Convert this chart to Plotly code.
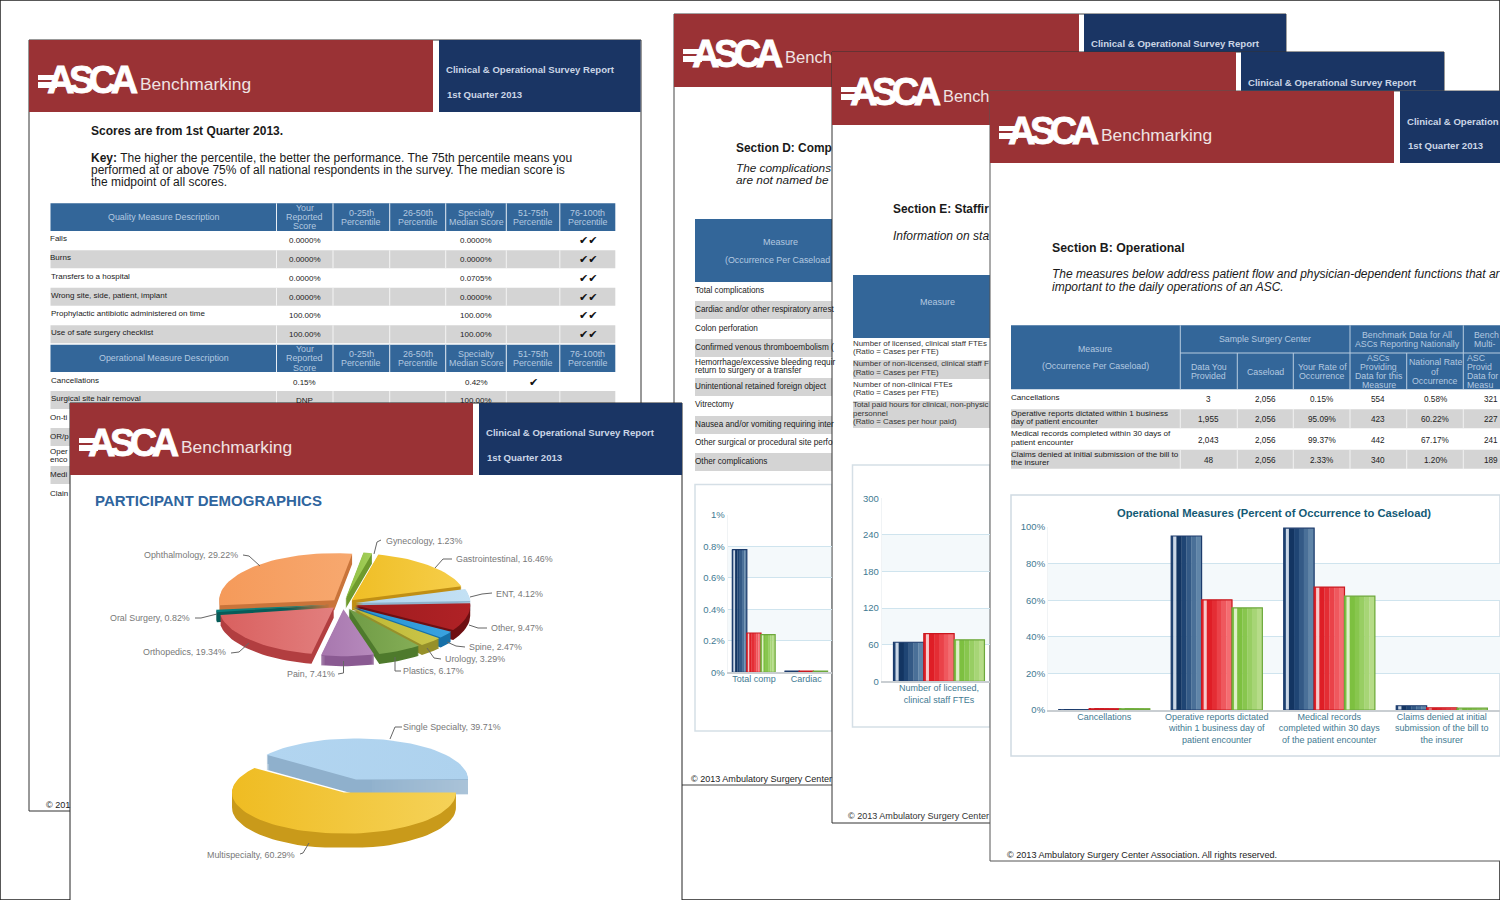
import math
import plotly.graph_objects as go

# ---------- data ----------
SPECIALTIES = ["Gynecology", "Gastrointestinal", "ENT", "Other", "Spine", "Urology", "Plastics",
               "Pain", "Orthopedics", "Oral Surgery", "Ophthalmology"]
SPECIALTY_SHARE = [1.23, 16.46, 4.12, 9.47, 2.47, 3.29, 6.17, 7.41, 19.34, 0.82, 29.22]
ASC_TYPES = ["Single Specialty", "Multispecialty"]
ASC_TYPE_SHARE = [39.71, 60.29]

OP_CATS = ["Cancellations", "Operative reports dictated<br>within 1 business day of<br>patient encounter",
           "Medical records<br>completed within 30 days<br>of the patient encounter",
           "Claims denied at initial<br>submission of the bill to<br>the insurer"]
OP_YOU = [0.15, 95.09, 99.37, 2.33]
OP_NATIONAL = [0.58, 60.22, 67.17, 1.20]
OP_MULTI = [0.6, 55.8, 62.2, 1.0]

COMP_CATS = ["Total comp", "Cardiac"]
COMP_YOU = [0.78, 0.008]
COMP_NATIONAL = [0.25, 0.008]
COMP_MULTI = [0.24, 0.008]

STAFF_CATS = ["Number of licensed,<br>clinical staff FTEs"]
STAFF_YOU = [64]
STAFF_NATIONAL = [78]
STAFF_MULTI = [68]

QUALITY_ROWS = ["Falls", "Burns", "Transfers to a hospital", "Wrong site, side, patient, implant",
                "Prophylactic antibiotic administered on time", "Use of safe surgery checklist"]
QUALITY_SCORE = ["0.0000%", "0.0000%", "0.0000%", "0.0000%", "100.00%", "100.00%"]
QUALITY_MEDIAN = ["0.0000%", "0.0000%", "0.0705%", "0.0000%", "100.00%", "100.00%"]
OPER_ROWS = ["Cancellations", "Surgical site hair removal"]
OPER_SCORE = ["0.15%", "DNP"]
OPER_MEDIAN = ["0.42%", "100.00%"]
OPER_SLIVERS = ["On-ti", "OR/p", "Oper<br>enco", "Medi", "Clain"]
PCT_HEAD = ["Your<br>Reported<br>Score", "0-25th<br>Percentile", "26-50th<br>Percentile",
            "Specialty<br>Median Score", "51-75th<br>Percentile", "76-100th<br>Percentile"]

COMP_ROWS = ["Total complications", "Cardiac and/or other respiratory arrest", "Colon perforation",
             "Confirmed venous thromboembolism (", "Hemorrhage/excessive bleeding requir<br>return to surgery or a transfer",
             "Unintentional retained foreign object", "Vitrectomy", "Nausea and/or vomiting requiring inter",
             "Other surgical or procedural site perfo", "Other complications"]
STAFF_ROWS = ["Number of licensed, clinical staff FTEs<br>(Ratio = Cases per FTE)",
              "Number of non-licensed, clinical staff F<br>(Ratio = Cases per FTE)",
              "Number of non-clinical FTEs<br>(Ratio = Cases per FTE)",
              "Total paid hours for clinical, non-physic<br>personnel<br>(Ratio = Cases per hour paid)"]
SEC_B_ROWS = ["Cancellations", "Operative reports dictated within 1 business<br>day of patient encounter",
              "Medical records completed within 30 days of<br>patient encounter",
              "Claims denied at initial submission of the bill to<br>the insurer"]
SEC_B_DATA = ["3", "1,955", "2,043", "48"]
SEC_B_CASELOAD = ["2,056", "2,056", "2,056", "2,056"]
SEC_B_RATE = ["0.15%", "95.09%", "99.37%", "2.33%"]
SEC_B_ASCS = ["554", "423", "442", "340"]
SEC_B_NATL = ["0.58%", "60.22%", "67.17%", "1.20%"]
SEC_B_MULTI = ["321", "227", "241", "189"]

# ---------- style ----------
W, H = 1500, 900
FONT = "Liberation Sans"
RED, NAVY, TBL, GREY = "#9A3235", "#1A3564", "#336699", "#D4D4D4"
HEADTXT, TICK = "#B4C9E0", "#3F7A92"
SPEC_COL = ["#8CBD3F", "#EFBE25", "#AED4EE", "#9E1B1E", "#2491D3", "#BDB732", "#6F9B45",
            "#A777AE", "#D9605F", "#0B7F7B", "#F59A5A"]
SPEC_TOP2 = ["#A5D05C", "#F6CE4A", "#C4E1F4", "#B02226", "#3BA3E0", "#CBC64A", "#85AE57",
             "#B78ABD", "#E27F7E", "#0B7F7B", "#F7A86F"]
SPEC_WALL = ["#6E9A2D", "#C08F14", "#8FB3CC", "#6E0F12", "#1670A8", "#96902A", "#4E7A2C",
             "#8A5A92", "#B23E40", "#075C58", "#C9743A"]

shapes, annotations = [], []
px = lambda x: x / W
py = lambda y: 1 - y / H


def rect(x0, y0, x1, y1, fill="rgba(0,0,0,0)", line=None, lw=1, layer="below"):
    shapes.append(dict(type="rect", xref="paper", yref="paper", x0=px(x0), x1=px(x1), y0=py(y0), y1=py(y1),
                       fillcolor=fill, line=dict(color=line or "rgba(0,0,0,0)", width=lw if line else 0), layer=layer))


def seg(pts, color="#666666", lw=1):
    for (a, b), (c, d) in zip(pts, pts[1:]):
        shapes.append(dict(type="line", xref="paper", yref="paper", x0=px(a), x1=px(c), y0=py(b), y1=py(d),
                           line=dict(color=color, width=lw), layer="above"))


def txt(x, y, s, size=8, color="#1A1A1A", anchor="left", family=FONT, pitch=None):
    lines = s.split("<br>")
    pitch = pitch or size * 1.03
    for i, ln in enumerate(lines):
        yy = y + (i - (len(lines) - 1) / 2) * pitch
        annotations.append(dict(xref="paper", yref="paper", x=px(x), y=py(yy), text=ln, showarrow=False, xanchor=anchor,
                                yanchor="middle", align=anchor, borderpad=0, borderwidth=0,
                                font=dict(family=family, size=size, color=color)))


def header(x, y, red_r, navy_l, navy_r, bottom, navy_b=None, line2=True, title="Clinical &amp; Operational Survey Report",
           bench="Benchmarking", bench_size=17.4):
    rect(x, y, red_r, bottom, RED)
    rect(navy_l, y, navy_r, navy_b or bottom, NAVY)
    rect(x + 9, y + 35, x + 28, y + 40, "#FFFFFF")
    rect(x + 9, y + 42, x + 28, y + 48, "#FFFFFF")
    txt(x + 18, y + 40, '<b><span style="letter-spacing:-5.5px;stroke:#FFFFFF;stroke-width:0.8px">ASCA</span></b>',
        38, "#FFFFFF")
    txt(x + 111, y + 44, bench, bench_size, "#EFE3E3")
    txt(navy_l + 7, y + 30, "<b>%s</b>" % title, 9.6, "#CBD5E6")
    if line2:
        txt(navy_l + 8, y + 54.5, "<b>1st Quarter 2013</b>", 9.6, "#CBD5E6")


# outer border
rect(0, 0, W, H, "#FFFFFF", "#222222", 1.5)

# ---------- page D (back) ----------
rect(674, 14, 1286, 785, "#FFFFFF", "#444444", 1)
header(674, 14, 1079, 1084, 1286, 87, navy_b=52, line2=False, bench="Bench", bench_size=16.6)
txt(736, 148, "<b>Section D: Comp</b>", 11.9)
txt(736, 168, "<i>The complications</i>", 11.8)
txt(736, 180, "<i>are not named be</i>", 11.8)
rect(695, 219, 832, 282, TBL)
txt(780, 242, "Measure", 9, HEADTXT, "center")
txt(725, 260, "(Occurrence Per Caseload", 8.9, HEADTXT)
comp_y = [290.5, 309.5, 328, 347.5, 366.5, 386.5, 405, 424.5, 442.5, 461.5]
for i, (lab, yy) in enumerate(zip(COMP_ROWS, comp_y)):
    if i % 2:
        rect(695, yy - 8.5, 832, yy + 9.5, GREY)
    txt(695, yy, lab, 8.2)
rect(695, 484.5, 832, 731, "#FFFFFF", "#D5DFE6", 1.5)
txt(691, 779, "© 2013 Ambulatory Surgery Center", 9.05, "#222222")

# ---------- page E ----------
rect(832, 52, 1444, 823, "#FFFFFF", "#333333", 1)
header(832, 52, 1236, 1241, 1444, 125, navy_b=91, line2=False, bench="Bench", bench_size=16.4)
txt(893, 209, "<b>Section E: Staffir</b>", 11.9)
txt(893, 236, "<i>Information on sta</i>", 12)
rect(853, 275, 990, 338, TBL)
txt(937, 302, "Measure", 9, HEADTXT, "center")
staff_y = [347.5, 368, 388.5, 413]
for i, (lab, yy) in enumerate(zip(STAFF_ROWS, staff_y)):
    if i % 2:
        rect(853, 360 if i == 1 else 401, 990, 379 if i == 1 else 428, GREY)
    txt(853, yy, lab, 7.9, "#333333")
rect(852.5, 465, 990, 727, "#FFFFFF", "#D5DFE6", 1.5)
txt(848, 816, "© 2013 Ambulatory Surgery Center", 9.05, "#333333")

# ---------- page B ----------
rect(990, 91, 1502, 861, "#FFFFFF", "#555555", 1)
header(990, 91, 1394, 1400, 1502, 163, title="Clinical &amp; Operation")
txt(1052, 247.5, "<b>Section B: Operational</b>", 12.3)
txt(1052, 274.5, "<i>The measures below address patient flow and physician-dependent functions that ar</i>", 12)
txt(1052, 286.5, "<i>important to the daily operations of an ASC.</i>", 12)
bx = [1011, 1180.3, 1237.3, 1293.3, 1350, 1406.7, 1463.3, 1500]
rect(1011, 325.3, 1500, 389.3, TBL)
rect(1180, 352.5, 1500, 353.5, "#B8CCE0")
for xx in bx[1:-1]:
    rect(xx - 0.5, 353 if xx not in (1180.3, 1350, 1463.3) else 325.3, xx + 0.5, 389.3, "#B8CCE0")
txt(1095, 349, "Measure", 8.8, HEADTXT, "center")
txt(1095, 366, "(Occurrence Per Caseload)", 8.8, HEADTXT, "center")
txt(1265, 339, "Sample Surgery Center", 8.8, HEADTXT, "center")
txt(1407, 339.5, "Benchmark Data for All<br>ASCs Reporting Nationally", 8.8, HEADTXT, "center")
txt(1474, 339.5, "Bench<br>Multi-", 8.8, HEADTXT)
txt(1208.5, 371.5, "Data You<br>Provided", 8.8, HEADTXT, "center")
txt(1265, 372, "Caseload", 8.8, HEADTXT, "center")
txt(1322, 371.5, "Your Rate of<br>Occurrence", 8.8, HEADTXT, "center")
txt(1378.5, 371.5, "ASCs<br>Providing<br>Data for this<br>Measure", 8.8, HEADTXT, "center")
txt(1435, 371.5, "National Rate<br>of<br>Occurrence", 8.8, HEADTXT, "center", pitch=9.5)
txt(1467, 371.5, "ASC<br>Provid<br>Data for<br>Measu", 8.8, HEADTXT)
b_rows = [(389.3, 408.7), (408.7, 428.7), (428.7, 449.3), (449.3, 469.3)]
b_cols = [SEC_B_DATA, SEC_B_CASELOAD, SEC_B_RATE, SEC_B_ASCS, SEC_B_NATL]
for i, ((t, b), lab) in enumerate(zip(b_rows, SEC_B_ROWS)):
    if i % 2:
        rect(1011, t + 0.5, 1500, b - 0.5, GREY)
        for xx in bx[1:-1]:
            rect(xx - 0.5, t, xx + 0.5, b, "#F2F2F2")
    txt(1011, (t + b) / 2 - (1 if i else 2), lab, 8.1)
    for j, col in enumerate(b_cols):
        txt((bx[j + 1] + bx[j + 2]) / 2, (t + b) / 2 + 1 if i else 399, col[i], 8.2, "#222222", "center")
    txt(1498, (t + b) / 2 + 1 if i else 399, SEC_B_MULTI[i], 8.2, "#222222", "right")
rect(1011, 495, 1500, 756, "#FFFFFF", "#D0DAE2", 1.5)
txt(1273.5, 512.5, "<b>Operational Measures (Percent of Occurrence to Caseload)</b>", 11.2, "#145A75", "center")
txt(1007, 855, "© 2013 Ambulatory Surgery Center Association. All rights reserved.", 9.1, "#222222")

# ---------- page A ----------
rect(29, 40, 641, 811, "#FFFFFF", "#333333", 1)
header(29, 40, 433, 439, 640.5, 112)
txt(91, 131, "<b>Scores are from 1st Quarter 2013.</b>", 12)
txt(91, 158, "<b>Key:</b> The higher the percentile, the better the performance. The 75th percentile means you", 12)
txt(91, 170, "performed at or above 75% of all national respondents in the survey. The median score is", 12)
txt(91, 182, "the midpoint of all scores.", 12)
ax = [50.5, 276.5, 333, 389.7, 445.7, 506.3, 559.8, 615.3]


def pct_table_head(t, b, title):
    rect(ax[0], t, ax[-1], b, TBL)
    for xx in ax[1:-1]:
        rect(xx - 0.5, t, xx + 0.5, b, "#E8EEF5")
    txt((ax[0] + ax[1]) / 2, (t + b) / 2, title, 8.9, HEADTXT, "center")
    for j, h in enumerate(PCT_HEAD):
        txt((ax[j + 1] + ax[j + 2]) / 2, (t + b) / 2, h, 8.9, HEADTXT, "center")


def pct_row(t, b, grey, lab, score, med, checks, col):
    if grey:
        rect(ax[0], t, ax[-1], b, GREY)
        for xx in ax[1:-1]:
            rect(xx - 0.5, t, xx + 0.5, b, "#F4F4F4")
    txt(ax[0], (t + b) / 2 - 1.5, lab, 8)
    txt((ax[1] + ax[2]) / 2, (t + b) / 2 + 0.5, score, 8, "#222222", "center")
    txt((ax[4] + ax[5]) / 2, (t + b) / 2 + 0.5, med, 8, "#222222", "center")
    if checks:
        txt((ax[col] + ax[col + 1]) / 2, (t + b) / 2 + 0.5, checks, 11, "#111111", "center", "DejaVu Sans")


pct_table_head(203.3, 231, "Quality Measure Description")
row_h = 18.75
for i, lab in enumerate(QUALITY_ROWS):
    pct_row(231.5 + i * row_h, 231.5 + (i + 1) * row_h - 0.8, i % 2, lab, QUALITY_SCORE[i], QUALITY_MEDIAN[i], "✔✔", 6)
pct_table_head(344.7, 372, "Operational Measure Description")
pct_row(372.5, 391, 0, OPER_ROWS[0], OPER_SCORE[0], OPER_MEDIAN[0], "✔", 5)
pct_row(391, 409, 1, OPER_ROWS[1], OPER_SCORE[1], OPER_MEDIAN[1], "", 5)
sliver_y = [417.5, 436.5, 455.5, 474.5, 493.5]
for i, (lab, yy) in enumerate(zip(OPER_SLIVERS, sliver_y)):
    if i % 2:
        rect(50.5, yy - 8.5, 70, yy + 9.5, GREY)
    txt(50.5, yy, lab, 8)
txt(46, 805, "© 201", 9.1, "#222222")

# ---------- page F (front) ----------
rect(70, 403, 682, 902, "#FFFFFF", "#222222", 1)
header(70, 403, 473, 479, 682, 475)
txt(95, 500.5, "<b>PARTICIPANT DEMOGRAPHICS</b>", 15, "#2F659E")

label_pos = [(386, 541), (456, 559), (496, 594), (491, 628), (469, 647), (445, 659), (403, 671),
             (287, 674), (143, 652), (110, 618), (144, 555)]
leaders = [[(381, 540), (377, 542), (374, 554)], [(452, 559), (443, 559), (435, 568)],
           [(492, 593), (482, 594), (470, 597)], [(487, 628), (478, 628), (469, 625)],
           [(465, 647), (456, 646), (447, 642)], [(441, 659), (434, 658), (427, 648)],
           [(401, 671), (395, 671), (395, 657)], [(338, 674), (343.5, 673), (343.5, 661)],
           [(231, 653), (239, 652), (249, 643)], [(195, 618), (201, 618), (217, 614)],
           [(243, 555), (249, 556), (260, 566)]]
for name, val, (lx, ly), lead in zip(SPECIALTIES, SPECIALTY_SHARE, label_pos, leaders):
    txt(lx, ly, "%s, %.2f%%" % (name, val), 8.9, "#787878")
    seg(lead)
for name, val, (lx, ly), lead in zip(ASC_TYPES, ASC_TYPE_SHARE, [(403, 727), (207, 855)],
                                     [[(402, 727), (395, 727), (390, 739)], [(300, 854), (303, 853), (309, 843)]]):
    txt(lx, ly, "%s, %.2f%%" % (name, val), 8.9, "#787878")
    seg(lead)

# ---------- figure ----------
fig = go.Figure()
axes = {}


def px_domain(x0, x1, y0, y1):
    return [x0 / W, x1 / W], [1 - y1 / H, 1 - y0 / H]


SERIES_STYLE = [
    ("#1C3B6C", [(0.00, 0.07, "#1F4474"), (0.07, 0.17, "#CBD7E6"), (0.17, 0.34, "#133562"), (0.34, 0.5, "#1F4574"),
                 (0.5, 0.66, "#345A86"), (0.66, 0.82, "#4A7098"), (0.82, 1.0, "#6085A8")]),
    ("#C9181F", [(0.00, 0.07, "#E3242B"), (0.07, 0.17, "#F8C9CB"), (0.17, 0.34, "#DF1E26"), (0.34, 0.5, "#E42D34"),
                 (0.5, 0.66, "#EA4249"), (0.66, 0.82, "#EF585E"), (0.82, 1.0, "#F46C71")]),
    ("#6DA83B", [(0.00, 0.07, "#80C245"), (0.07, 0.17, "#DFF0C8"), (0.17, 0.34, "#7DC040"), (0.34, 0.5, "#88C64E"),
                 (0.5, 0.66, "#98CE63"), (0.66, 0.82, "#A7D576"), (0.82, 1.0, "#B6DC88")]),
]


def bar_chart(n, cats, series, dom, xrange, yticks, ytext, band_pairs, bw=0.27):
    xa, ya = ("x%d" % n, "y%d" % n)
    xd, yd = px_domain(*dom)
    axes["xaxis%d" % n] = dict(domain=xd, anchor=ya, range=xrange, type="category", categoryorder="array",
                               categoryarray=cats, showgrid=False, showline=True, linecolor="#C9CED2", linewidth=1.5,
                               ticks="", ticklabelstandoff=-3, tickfont=dict(family=FONT, size=9, color=TICK),
                               zeroline=False, fixedrange=True, automargin=False)
    axes["yaxis%d" % n] = dict(domain=yd, anchor=xa, range=[yticks[0], yticks[-1]], tickvals=yticks, ticktext=ytext,
                               showgrid=True, gridcolor="#CFE4EE", gridwidth=1, zeroline=False, ticks="",
                               showline=True, linecolor="#F0F3F5", linewidth=1, automargin=False,
                               tickfont=dict(family=FONT, size=9.5, color=TICK), fixedrange=True)
    for a, b in band_pairs:
        shapes.append(dict(type="rect", xref=xa, yref=ya, x0=xrange[0], x1=xrange[1], y0=a, y1=b,
                           fillcolor="#F4F9FB", line=dict(width=0), layer="below"))
    for k, (vals, (edge, strips)) in enumerate(zip(series, SERIES_STYLE)):
        off = (k - 1.5) * bw
        for f0, f1, col in strips:
            fig.add_trace(go.Bar(x=cats, y=vals, xaxis=xa, yaxis=ya, width=bw * (f1 - f0) + 0.002, offset=off + bw * f0,
                                 marker=dict(color=col, line=dict(width=0)), showlegend=False, hoverinfo="skip"))
        fig.add_trace(go.Bar(x=cats, y=vals, xaxis=xa, yaxis=ya, width=bw, offset=off,
                             marker=dict(color="rgba(0,0,0,0)", line=dict(color=edge, width=1.2)), showlegend=False))


bar_chart(1, COMP_CATS, [COMP_YOU, COMP_NATIONAL, COMP_MULTI], (727.7, 831.5, 515, 672.3), [-0.5, 1.48],
          [0, 0.2, 0.4, 0.6, 0.8, 1], ["0%", "0.2%", "0.4%", "0.6%", "0.8%", "1%"], [(0.2, 0.4), (0.6, 0.8)])
bar_chart(2, STAFF_CATS, [STAFF_YOU, STAFF_NATIONAL, STAFF_MULTI], (881.7, 989.5, 498.3, 681.3), [-0.51, 0.45],
          [0, 60, 120, 180, 240, 300], ["0", "60", "120", "180", "240", "300"], [(60, 120), (180, 240)])
bar_chart(3, OP_CATS, [OP_YOU, OP_NATIONAL, OP_MULTI], (1048, 1500, 527, 710), [-0.5, 3.517],
          [0, 20, 40, 60, 80, 100], ["0%", "20%", "40%", "60%", "80%", "100%"], [(20, 40), (60, 80)])


def pie3d(n, labels, values, colors, tops, walls, center, rx, ry, thick, rot, pull):
    """Extruded elliptical pie: every wedge is derived from its share value and drawn through a unit-circle axis."""
    xa, ya = "x%d" % n, "y%d" % n
    span = 1.5
    cx, cy = center
    xd, yd = px_domain(cx - span * rx, cx + span * rx, cy - span * ry, cy + span * ry)
    for nm, d, ref in (("xaxis%d" % n, xd, ya), ("yaxis%d" % n, yd, xa)):
        axes[nm] = dict(domain=d, anchor=ref, range=[-span, span], visible=False, fixedrange=True, automargin=False)
    t = thick / ry
    total = sum(values)
    wedges, a = [], rot
    for lab, v, c, tp, wl in zip(labels, values, colors, tops, walls):
        b = a + v / total * 360
        wedges.append((lab, v, c, tp, wl, a, b))
        a = b
    # back wedges first
    order = sorted(wedges, key=lambda w: -math.cos(math.radians((w[5] + w[6]) / 2)))
    for lab, v, c, tp, wl, a0, a1 in order:
        mid = math.radians((a0 + a1) / 2)
        ox, oy = pull * math.sin(mid), pull * math.cos(mid)
        steps = max(3, int((a1 - a0) / 3))
        xs = [ox] + [ox + math.sin(math.radians(a0 + (a1 - a0) * i / steps)) for i in range(steps + 1)] + [ox]
        ys = [oy] + [oy + math.cos(math.radians(a0 + (a1 - a0) * i / steps)) for i in range(steps + 1)] + [oy]
        wx, wy = [], []
        for s in range(1, int(thick) + 1):
            wx += xs + [None]
            wy += [yy - t * s / int(thick) for yy in ys] + [None]
        fig.add_trace(go.Scatter(x=wx, y=wy, xaxis=xa, yaxis=ya, mode="lines", fill="toself", fillcolor=wl,
                                 line=dict(width=0, color=wl), showlegend=False, hoverinfo="skip"))
        fig.add_trace(go.Scatter(x=xs, y=ys, xaxis=xa, yaxis=ya, mode="lines", fill="toself", name=lab,
                                 fillgradient=dict(type="horizontal", colorscale=[[0, c], [1, tp]]),
                                 line=dict(width=0, color=c), text=["%s, %.2f%%" % (lab, v)] * len(xs),
                                 hoverinfo="text", showlegend=False))


pie3d(4, SPECIALTIES, SPECIALTY_SHARE, SPEC_COL, SPEC_TOP2, SPEC_WALL, (343, 604), 115, 47, 10, 9, 0.11)
pie3d(5, ASC_TYPES, ASC_TYPE_SHARE, ["#B2D5F0", "#EFBC22"], ["#AED2EE", "#F5D258"], ["#8FB0CC", "#C99A1A"],
      (350, 786), 112, 41, 15, -53, 0.17)

fig.update_layout(template="none", width=W, height=H, margin=dict(l=0, r=0, t=0, b=0, pad=0, autoexpand=False),
                  autosize=False, paper_bgcolor="#FFFFFF", plot_bgcolor="rgba(0,0,0,0)", barmode="overlay",
                  showlegend=False, font=dict(family=FONT), shapes=shapes, annotations=annotations, **axes)
fig.write_html("out.html", config={"displayModeBar": False},
               post_script="document.body.style.margin='0';document.documentElement.style.overflow='hidden';")
